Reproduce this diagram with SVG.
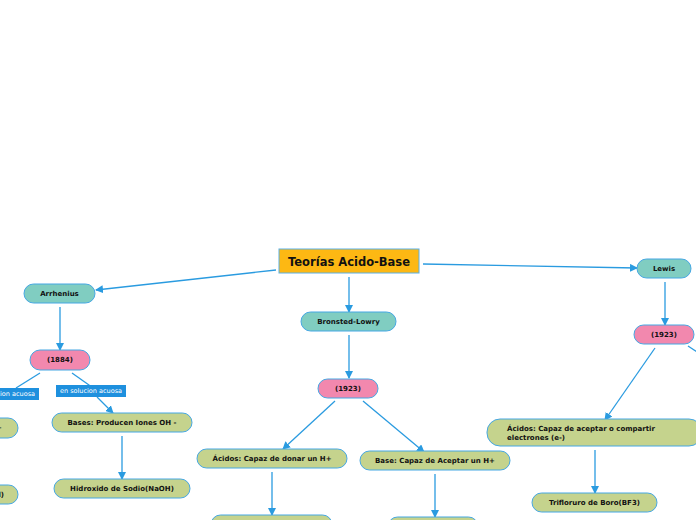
<svg xmlns="http://www.w3.org/2000/svg" width="696" height="520" viewBox="0 0 696 520">
<defs>
<marker id="ah" markerWidth="8" markerHeight="8" refX="7" refY="4" orient="auto" markerUnits="userSpaceOnUse">
<path d="M0,0 L8,4 L0,8 Z" fill="#2A9BE0"/>
</marker>
<style>
.c{stroke:#2A9BE0;stroke-width:1.3;fill:none}
.n{stroke:#45A7E3;stroke-width:1}
.t{font-family:"DejaVu Sans",Verdana,sans-serif;font-weight:bold;font-size:7px;fill:#111;text-anchor:middle;dominant-baseline:central}
.teal{fill:#80CDC1}
.pink{fill:#F288AE}
.grn{fill:#C5D38D}
.lbl{fill:#1E90DE}
.lt{font-family:"DejaVu Sans",Verdana,sans-serif;font-size:6.5px;fill:#fff;text-anchor:middle;dominant-baseline:central}
</style>
</defs>
<rect width="696" height="520" fill="#fff"/>
<g id="connectors">
<path class="c" d="M276,270 L96,290" marker-end="url(#ah)"/>
<path class="c" d="M60,307 L60,350" marker-end="url(#ah)"/>
<path class="c" d="M40,373 L16,388"/>
<path class="c" d="M72,373 L96,390"/>
<path class="c" d="M97,397 L113,413" marker-end="url(#ah)"/>
<path class="c" d="M122,436 L122,479" marker-end="url(#ah)"/>
<path class="c" d="M349,277 L349,312" marker-end="url(#ah)"/>
<path class="c" d="M349,335 L349,378" marker-end="url(#ah)"/>
<path class="c" d="M335,401 L283,449" marker-end="url(#ah)"/>
<path class="c" d="M363,401 L424,452" marker-end="url(#ah)"/>
<path class="c" d="M272,472 L272,515" marker-end="url(#ah)"/>
<path class="c" d="M435,474 L435,517" marker-end="url(#ah)"/>
<path class="c" d="M423,264 L637,268" marker-end="url(#ah)"/>
<path class="c" d="M665,282 L665,325" marker-end="url(#ah)"/>
<path class="c" d="M655,348 L605,420" marker-end="url(#ah)"/>
<path class="c" d="M688,346 L700,354"/>
<path class="c" d="M595,450 L595,493" marker-end="url(#ah)"/>
</g>
<g id="title">
<rect x="279" y="249" width="140" height="24" fill="#FDB813" stroke="#5AB0E6" stroke-width="1"/>
<text class="t" x="349" y="261.5" style="font-size:11.5px">Teorías Acido-Base</text>
</g>
<g id="arrhenius">
<rect class="n teal" x="24" y="284" width="71" height="19" rx="9.5"/>
<text class="t" x="59.5" y="293.5">Arrhenius</text>
</g>
<g id="y1884">
<rect class="n pink" x="30" y="350" width="60" height="20" rx="10"/>
<text class="t" x="60" y="360">(1884)</text>
</g>
<g id="lbl-left">
<rect class="lbl" x="-31" y="388" width="70" height="12"/>
<text class="lt" x="4" y="394">en solucion acuosa</text>
</g>
<g id="lbl-right">
<rect class="lbl" x="56" y="385" width="70" height="12"/>
<text class="lt" x="91" y="391">en solucion acuosa</text>
</g>
<g id="acidos-arr">
<rect class="n grn" x="-100" y="418" width="118" height="20" rx="10"/>
<text class="t" x="2" y="428" style="text-anchor:end">Ácidos: Producen Iones H+</text>
</g>
<g id="bases-arr">
<rect class="n grn" x="52" y="413" width="140" height="19" rx="9.5"/>
<text class="t" x="122" y="422.5">Bases: Producen Iones OH -</text>
</g>
<g id="hcl">
<rect class="n grn" x="-100" y="485" width="118" height="19" rx="9.5"/>
<text class="t" x="4" y="494.5" style="text-anchor:end">Acido Clorhidrico(HCl)</text>
</g>
<g id="naoh">
<rect class="n grn" x="54" y="479" width="136" height="19" rx="9.5"/>
<text class="t" x="122" y="488.5">Hidroxido de Sodio(NaOH)</text>
</g>
<g id="bronsted">
<rect class="n teal" x="301" y="312" width="95" height="19" rx="9.5"/>
<text class="t" x="348.5" y="321.5">Bronsted-Lowry</text>
</g>
<g id="y1923a">
<rect class="n pink" x="318" y="379" width="60" height="19" rx="9.5"/>
<text class="t" x="348" y="388.5">(1923)</text>
</g>
<g id="acidos-bl">
<rect class="n grn" x="197" y="449" width="150" height="19" rx="9.5"/>
<text class="t" x="272" y="458.5">Ácidos: Capaz de donar un H+</text>
</g>
<g id="base-bl">
<rect class="n grn" x="360" y="451" width="150" height="19" rx="9.5"/>
<text class="t" x="435" y="460.5">Base: Capaz de Aceptar un H+</text>
</g>
<g id="ex-acido-bl">
<rect class="n grn" x="211" y="515" width="121" height="19" rx="9.5"/>
</g>
<g id="ex-base-bl">
<rect class="n grn" x="388" y="517" width="90" height="19" rx="9.5"/>
</g>
<g id="lewis">
<rect class="n teal" x="637" y="259" width="54" height="19" rx="9.5"/>
<text class="t" x="664" y="268.5">Lewis</text>
</g>
<g id="y1923b">
<rect class="n pink" x="634" y="325" width="60" height="19" rx="9.5"/>
<text class="t" x="664" y="334.5">(1923)</text>
</g>
<g id="acidos-lewis">
<rect class="n grn" x="487" y="419" width="215" height="27" rx="13"/>
<text class="t" x="507" y="428.5" style="text-anchor:start">Ácidos: Capaz de aceptar o compartir</text>
<text class="t" x="507" y="437.5" style="text-anchor:start">electrones (e-)</text>
</g>
<g id="bf3">
<rect class="n grn" x="532" y="493" width="125" height="19" rx="9.5"/>
<text class="t" x="594.5" y="502.5">Trifloruro de Boro(BF3)</text>
</g>
</svg>
